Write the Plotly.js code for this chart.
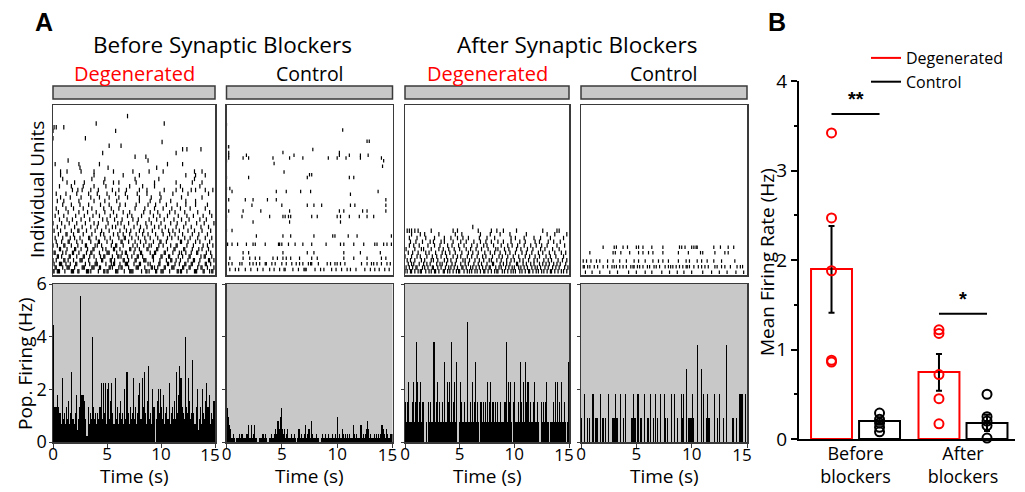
<!DOCTYPE html>
<html><head><meta charset="utf-8">
<script src="https://cdn.plot.ly/plotly-3.0.1.min.js"></script>
<style>html,body{margin:0;padding:0;background:#fff}#chart{width:1025px;height:492px}</style>
</head><body><div id="chart"></div>
<script>
// ---------------- DATA ----------------
const timeRange = [0, 15];          // s
const binWidth = 0.1;               // s, histogram bin
const spikeTimeUnit = 0.1;          // raster spike times are stored in tenths of a second
const histTicksX = [0, 5, 10, 15];
const histTickText = ['0', '5', '10', ''];   // '15' is drawn on an overlay axis, nudged left as in the figure
const histLastTick = [15], histLastTickText = ['15'];
const histTicksY = [0, 2, 4, 6];

// raster: [unit index (1 = bottom), spike times]
const unitsDeg = 45, unitsCtrl = 60;
const rasterDegBefore = [
 [1,"0 1 4 5 6 11 17 18 19 23 24 31 32 33 35 42 47 48 50 51 58 59 60 66 71 72 73 74 82 86 87 89 95 96 100 101 102 108 115 116 118 119 124 131 132 133 139 140 145 147 148"],
 [2,"2 3 9 13 14 15 20 27 28 29 36 37 38 43 44 52 53 55 61 63 64 70 77 78 79 85 91 92 94 97 103 104 110 111 112 120 121 126 127 134 137 138 143 149"],
 [3,"1 6 7 8 12 16 21 22 30 34 39 40 41 49 54 56 57 62 67 68 69 75 80 81 88 90 98 99 106 107 113 117 122 123 128 129 135 141 142 146"],
 [4,"0 3 10 11 14 19 25 26 27 33 40 45 46 53 54 57 65 66 70 76 77 84 85 86 93 99 105 109 110 114 118 125 130 131 136 144 145 149"],
 [5,"4 5 8 15 16 22 28 29 34 38 44 47 48 55 60 61 63 69 73 78 79 83 92 93 100 101 107 108 116 120 126 127 137 140 141 147"],
 [6,"1 2 9 12 18 19 24 31 35 36 43 50 51 52 59 64 67 68 75 81 82 90 94 95 103 104 111 117 119 123 128 133 134 142 146"],
 [7,"6 7 13 20 21 26 32 37 38 46 49 56 57 62 71 72 76 80 87 88 96 97 106 112 113 121 122 129 135 138 144"],
 [8,"0 4 10 11 17 23 30 31 39 41 45 54 58 59 65 74 78 84 89 91 98 102 109 114 115 124 130 139 143 148"],
 [9,"3 8 14 15 22 27 35 42 43 50 55 63 64 70 76 81 86 93 99 100 105 118 119 125 132 136 145"],
 [10,"2 9 16 20 25 33 34 40 48 53 61 66 67 73 79 85 90 97 106 110 116 122 127 134 141 147"],
 [11,"5 12 13 19 28 36 44 47 56 60 65 71 77 83 88 95 102 108 113 120 129 135 143"],
 [12,"1 7 17 23 24 31 39 45 52 62 68 72 80 84 92 101 107 111 117 125 131 138 146"],
 [13,"4 11 20 27 35 41 49 55 58 66 75 81 87 94 98 104 114 121 128 137 144"],
 [14,"0 8 15 22 30 38 42 51 60 63 70 78 86 91 100 109 115 123 133 140 149"],
 [15,"6 13 18 26 34 46 50 57 64 74 79 89 96 103 112 119 126 136 142"],
 [16,"2 10 21 29 37 43 53 59 69 73 82 93 99 106 116 124 130 139 147"],
 [17,"5 14 24 32 40 48 56 65 71 84 90 97 108 113 122 134 145"],
 [18,"3 12 19 28 36 47 54 61 76 85 94 102 110 118 127 141"],
 [19,"9 17 25 33 44 52 62 67 77 88 95 105 115 123 132 143"],
 [20,"4 10 24 38 48 59 80 90 99 109 123 132"],
 [21,"7 16 26 35 43 52 61 69 80 91 100 119 138"],
 [22,"3 12 22 33 41 50 58 67 78 87 99 111 125 144"],
 [23,"18 23 27 35 42 55 61 68 80 87 103 114 120 128 132 141 148"],
 [24,"6 17 28 38 49 71 83 94 118 136"],
 [25,"13 20 29 47 56 61 77 94 114 129 138"],
 [26,"9 36 48 76 98 131"],
 [27,"7 38 65 80 123 132 141"],
 [28,"7 13 26 38 56 74 89 102 131 138"],
 [29,"25 51 96"],
 [30,"2 24 43 106 120"],
 [31,"14 88"],
 [32,"76 86"],
 [33,"46 114"],
 [34,"120 124 137"],
 [35,"52 63"],
 [36,"101"],
 [37,"0 30"],
 [39,"0 58"],
 [40,"1 3 10"],
 [41,"40 103"],
 [43,"69"]
];
const rasterCtrlBefore = [
 [2,"3 8 11 17 22 28 33 39 43 48 52 53 60 65 70 71 72 80 85 88 95 99 104 109 112 117 125 130 134 138 143 147"],
 [4,"2 5 12 14 21 24 27 30 35 36 41 44 50 54 59 63 66 69 74 76 77 83 91 94 98 100 103 107 122 127 131 133 136 140 145 148"],
 [6,"3 15 21 26 30 42 46 51 54 58 66 77 82 106 115 127 140 144"],
 [8,"15 20 51 73 79 106 121 139"],
 [11,"1 5 10 18 24 26 35 47 48 50 56 62 69 77 90 103 106 115 124 134 136 142 145 149"],
 [14,"27 51 58 79 96 98 110 118 149"],
 [16,"0 5"],
 [19,"24 57 103"],
 [21,"0 14 39 51 53 56 58 77 82 100 103 111 120 127 133"],
 [23,"2 15 31 57 102 106 123 127 144"],
 [25,"23 50 73 79 86 112 116 144"],
 [27,"2 17 24 37 45 144"],
 [29,"112"],
 [30,"5 45 54 67 76 137"],
 [31,"0 3"],
 [35,"0 20 73 111 115"],
 [36,"75 77"],
 [37,"52"],
 [39,"141"],
 [40,"43"],
 [41,"0 142"],
 [42,"2 15 20 42 57 69 92 100 108 121 140"],
 [43,"2 18 61 102 111 121 128"],
 [44,"2 51 102"],
 [45,"78"],
 [46,"0 2"],
 [48,"127 129"],
 [52,"105"],
 [54,"0"]
];
const rasterDegAfter = [
 [1,"0 2 5 6 9 12 14 15 19 22 24 27 28 31 35 36 39 41 44 47 49 50 54 57 59 61 64 66 69 72 73 76 79 82 84 85 89 91 94 97 99 101 105 107 110 113 114 117 120 122 125 127 130 133 134 137 140 143 145 148"],
 [2,"1 4 7 10 11 16 18 21 25 26 30 33 37 40 42 45 48 52 53 56 60 62 65 68 71 74 77 78 83 86 88 92 95 98 100 104 106 109 112 116 119 121 124 128 131 135 138 141 146 149"],
 [3,"3 6 8 13 17 20 23 29 32 34 38 43 46 51 55 58 63 67 70 75 80 81 87 90 93 96 102 103 108 111 115 118 123 126 129 132 136 139 142 147"],
 [4,"2 5 9 15 18 24 26 30 36 39 42 47 53 55 59 64 68 72 77 79 84 88 93 97 100 105 108 113 118 121 127 131 134 140 144 148"],
 [5,"0 6 11 14 20 25 29 33 38 44 48 51 57 61 66 71 74 80 86 89 94 99 104 110 114 119 123 129 133 138 145"],
 [6,"3 7 12 19 22 28 34 37 41 46 52 58 62 67 73 78 82 87 92 96 101 107 111 116 122 126 132 137 143 147"],
 [7,"1 9 15 17 24 31 35 40 45 50 56 60 65 70 76 83 85 91 95 102 106 112 117 124 128 135 141"],
 [8,"4 8 13 21 27 32 39 43 49 54 61 66 72 75 81 88 94 98 103 109 115 120 125 130 139 146"],
 [9,"5 10 16 23 26 33 36 44 51 56 63 69 74 79 85 90 97 105 110 119 123 131 136 142"],
 [10,"4 11 19 27 36 42 48 53 58 68 75 82 97 101 109 118 124 133 145"],
 [11,"6 14 18 31 46 52 69 78 87 96 111 130 137 148"],
 [12,"2 4 6 9 12 24 44 48 67 79 84 90 102 126 139 141"],
 [13,"62"]
];
const rasterCtrlAfter = [
 [1,"4 10 17 26 33 43 50 58 64 73 80 87 93 100 110 118 125 132 140 147"],
 [3,"2 3 6 8 12 15 20 24 28 30 32 35 38 41 45 47 48 51 53 56 60 62 66 68 71 76 79 81 83 86 89 92 95 96 98 102 106 109 112 115 121 123 127 130 135 141 144 146"],
 [5,"2 5 9 14 17 24 29 35 41 48 52 58 65 70 74 79 88 95 98 105 109 114 120 127 139"],
 [8,"8 29 31 36 44 52 56 61 65 74 88 97 108 110 121 130 133"],
 [10,"20 30 32 38 42 50 52 56 64 74 89 91 94 100 102 104 105 120 126 133 138"]
];

// population firing: spike counts per 0.1 s bin, and Hz per counted spike
const hzPerSpike = {degBefore: 0.2222, ctrlBefore: 0.16, degAfter: 0.76, ctrlAfter: 0.92};
const histDegBefore = [20,6,6,6,8,6,5,3,11,4, 5,3,6,4,7,3,5,12,4,3, 5,8,2,4,6,25,8,8,8,7, 4,1,6,3,5,4,18,6,4,5,
 3,5,4,6,10,4,10,5,10,3, 9,10,4,7,10,5,3,11,4,6, 3,5,7,4,5,3,9,4,12,5, 3,6,4,5,11,4,6,3,5,8,
 10,4,11,6,12,5,3,7,13,4, 5,3,9,6,0,4,7,9,5,9, 6,4,8,3,5,6,4,10,3,5, 6,4,7,4,12,5,8,13,11,6,
 5,4,18,6,5,11,7,4,5,14, 5,3,6,9,2,4,6,3,9,5, 4,7,10,6,8,3,5,4,7,7];
const histCtrlBefore = [8,6,4,3,1,1,2,1,0,1, 1,2,1,2,2,1,1,1,2,4, 1,1,4,1,2,4,1,1,0,1, 1,1,2,2,1,2,1,0,1,1,
 2,1,1,2,3,2,5,3,6,8, 3,2,3,1,2,3,1,1,2,1, 1,2,1,0,1,3,1,2,1,1, 2,4,1,2,3,1,5,2,1,1,
 1,2,1,1,0,1,2,1,1,2, 1,1,2,1,1,2,1,1,2,1, 6,1,2,1,3,2,1,2,1,2, 1,2,1,1,4,2,1,2,1,1,
 1,4,1,2,1,2,3,5,3,1, 2,1,1,2,1,2,1,2,1,2, 4,3,2,1,3,2,1,1,2,2];
const histDegAfter = [2,1,2,3,1,1,2,3,1,2, 5,3,1,2,3,1,2,0,0,1, 0,2,1,2,1,1,5,1,2,3, 1,2,1,1,2,1,4,1,3,2,
 3,1,5,1,2,3,1,4,0,1, 3,2,1,1,2,1,1,6,1,2, 1,3,1,2,4,1,2,1,0,2, 1,2,1,2,1,3,1,2,3,1,
 2,1,2,1,2,1,1,2,1,1, 1,2,5,1,3,2,3,1,0,2, 3,1,1,2,1,4,2,1,3,1, 4,2,3,1,2,1,1,2,3,1,
 1,2,1,0,2,1,2,1,2,3, 1,1,0,1,1,2,1,3,1,3, 1,2,1,3,1,2,1,0,1,4];
const histCtrlAfter = [1,0,0,2,0,1,0,1,0,0, 2,2,0,1,1,0,0,2,0,1, 1,0,1,0,2,0,0,0,1,1, 1,2,1,0,0,2,0,0,1,0,
 2,0,0,0,0,1,1,2,1,1, 0,2,0,1,1,0,0,2,0,0, 1,0,2,0,0,1,0,2,0,1, 0,2,0,0,0,2,1,0,1,0,
 0,2,0,0,2,0,0,1,0,0, 2,1,2,0,0,3,0,1,1,1, 2,1,0,0,0,4,0,0,3,0, 2,0,0,1,2,1,1,0,0,0,
 2,0,0,1,0,2,0,0,1,0, 0,4,0,0,0,0,1,1,0,0, 1,0,0,2,2,2,0,0,2,0];

// panel B
const groups = ["Before<br>blockers", "After<br>blockers"];
const meanDeg = [1.9, 0.75], semDegUp = [0.48, 0.20], semDegDown = [0.49, 0.21];
const meanCtrl = [0.20, 0.18], semCtrl = [0.04, 0.09];
const ptsDeg = [[3.42, 2.47, 1.88, 0.88, 0.86], [1.22, 1.18, 0.72, 0.45, 0.17]];
const ptsCtrl = [[0.29, 0.22, 0.18, 0.13, 0.08], [0.50, 0.25, 0.20, 0.15, 0.01]];
const sig = [{g: 0, y: 3.63, label: "**"}, {g: 1, y: 1.40, label: "*"}];

// ---------------- LAYOUT HELPERS ----------------
const W = 1025, H = 492;
const fx = p => p / W, fy = p => 1 - p / H;
const RED = '#ff0000', FRAME = '#3a3a3a', GREY = '#c8c8c8';
const FONT = 'Open Sans, Noto Sans, sans-serif';
const cols = [[53, 215], [226.5, 392.5], [405, 569], [581, 747]];
const rasterY = [105, 275], histY = [284, 442], stimY = [86, 99];

const traces = [], layout = {
  width: W, height: H, margin: {l: 0, r: 0, t: 0, b: 0},
  paper_bgcolor: 'white', plot_bgcolor: 'rgba(0,0,0,0)',
  font: {family: FONT, color: 'black', size: 16},
  showlegend: true, bargap: 0, shapes: [], annotations: [],
  legend: {x: fx(866), y: fy(41), xanchor: 'left', yanchor: 'top', bgcolor: 'rgba(0,0,0,0)',
           font: {size: 16, family: FONT}, itemwidth: 30, tracegroupgap: 0}
};
const ax = n => (n === 1 ? '' : String(n));

const rasters = [[rasterDegBefore, unitsDeg], [rasterCtrlBefore, unitsCtrl], [rasterDegAfter, unitsDeg], [rasterCtrlAfter, unitsCtrl]];
const hists = [[histDegBefore, hzPerSpike.degBefore], [histCtrlBefore, hzPerSpike.ctrlBefore],
               [histDegAfter, hzPerSpike.degAfter], [histCtrlAfter, hzPerSpike.ctrlAfter]];

rasters.forEach(([rows, nUnits], i) => {
  const n = i + 1, xs = [], ys = [];
  rows.forEach(([u, str]) => str.split(/\s+/).filter(s => s.length).forEach(s => {
    xs.push(Number(s) * spikeTimeUnit); ys.push(u);
  }));
  traces.push({type: 'scatter', mode: 'markers', x: xs, y: ys, xaxis: 'x' + ax(n), yaxis: 'y' + ax(n),
    showlegend: false, hoverinfo: 'skip', cliponaxis: true,
    marker: {symbol: 'line-ns-open', size: nUnits === unitsDeg ? 3.2 : 2.5, color: 'black', line: {width: 1.2, color: 'black'}}});
  layout['xaxis' + ax(n)] = {domain: [fx(cols[i][0]), fx(cols[i][1])], anchor: 'y' + ax(n), range: timeRange,
    showticklabels: false, ticks: '', showgrid: false, zeroline: false, showline: true, mirror: true,
    linecolor: FRAME, linewidth: 1.5, fixedrange: true};
  layout['yaxis' + ax(n)] = {domain: [fy(rasterY[1]), fy(rasterY[0])], anchor: 'x' + ax(n), range: [0, nUnits + 1],
    showticklabels: false, ticks: '', showgrid: false, zeroline: false, showline: true, mirror: true,
    linecolor: FRAME, linewidth: 1.5, fixedrange: true};
  layout.shapes.push({type: 'rect', xref: 'x' + ax(n) + ' domain', yref: 'paper', x0: 0, x1: 1,
    y0: fy(stimY[1]), y1: fy(stimY[0]), fillcolor: GREY, line: {color: FRAME, width: 1.5}});
});

hists.forEach(([counts, q], i) => {
  const n = i + 5, m = i + 10;
  traces.push({type: 'bar', x: counts.map((c, k) => (k + 0.5) * binWidth), y: counts.map(c => c * q),
    width: binWidth, xaxis: 'x' + n, yaxis: 'y' + n, showlegend: false, hoverinfo: 'skip',
    marker: {color: 'black', line: {width: 0}}});
  // empty trace so the overlay axis carrying the '15' label is drawn
  traces.push({type: 'scatter', mode: 'markers', x: [], y: [], xaxis: 'x' + m, yaxis: 'y' + n,
    showlegend: false, hoverinfo: 'skip'});
  layout['xaxis' + n] = {domain: [fx(cols[i][0]), fx(cols[i][1])], anchor: 'y' + n, range: timeRange,
    tickvals: histTicksX, ticktext: histTickText, ticks: 'outside', ticklen: 4, tickcolor: FRAME, tickfont: {size: 17},
    ticklabelstandoff: -8,
    showgrid: false, zeroline: false, showline: true, mirror: true, linecolor: FRAME, linewidth: 1.5, fixedrange: true};
  layout['xaxis' + m] = {overlaying: 'x' + n, anchor: 'y' + n, side: 'bottom', range: timeRange,
    tickvals: histLastTick, ticktext: histLastTickText, ticks: '', tickfont: {size: 17},
    ticklabelstandoff: 1, ticklabelshift: -5,
    showgrid: false, zeroline: false, showline: false, fixedrange: true};
  layout['yaxis' + n] = {domain: [fy(histY[1]), fy(histY[0])], anchor: 'x' + n, range: [0, 6],
    tickvals: histTicksY, ticks: 'outside', ticklen: 3, tickcolor: FRAME, showticklabels: i === 0, tickfont: {size: 18},
    ticklabelstandoff: -2,
    showgrid: false, zeroline: false, showline: true, mirror: true, linecolor: FRAME, linewidth: 1.5, fixedrange: true};
  layout.shapes.push({type: 'rect', xref: 'x' + n + ' domain', yref: 'y' + n + ' domain', x0: 0, x1: 1, y0: 0, y1: 1,
    fillcolor: GREY, line: {width: 0}, layer: 'below'});
  layout.annotations.push({xref: 'paper', yref: 'paper', x: fx((cols[i][0] + cols[i][1]) / 2), y: fy(476),
    text: 'Time (s)', showarrow: false, font: {size: 19}, xanchor: 'center', yanchor: 'middle'});
});

// panel B
const barW = 0.381, offDeg = -0.414, offCtrl = 0.033;
const gx = groups.map((g, k) => k);
traces.push({type: 'bar', x: gx, y: meanDeg, width: barW, offset: offDeg, xaxis: 'x9', yaxis: 'y9',
  name: 'Degenerated', showlegend: false, marker: {color: 'white', line: {color: RED, width: 2}},
  error_y: {type: 'data', symmetric: false, array: semDegUp, arrayminus: semDegDown, color: 'black', thickness: 2, width: 3}});
traces.push({type: 'bar', x: gx, y: meanCtrl, width: barW, offset: offCtrl, xaxis: 'x9', yaxis: 'y9',
  name: 'Control', showlegend: false, marker: {color: 'white', line: {color: 'black', width: 2}},
  error_y: {type: 'data', array: semCtrl, color: 'black', thickness: 2, width: 3}});
[[ptsDeg, offDeg, RED], [ptsCtrl, offCtrl, 'black']].forEach(([pts, off, col]) => {
  const xs = [], ys = [];
  pts.forEach((arr, k) => arr.forEach(v => { xs.push(k + off + barW / 2); ys.push(v); }));
  traces.push({type: 'scatter', mode: 'markers', x: xs, y: ys, xaxis: 'x9', yaxis: 'y9', showlegend: false,
    cliponaxis: false, hoverinfo: 'skip', marker: {symbol: 'circle-open', size: 9, color: col, line: {width: 2, color: col}}});
});
traces.push({type: 'scatter', mode: 'lines', x: [null], y: [null], xaxis: 'x9', yaxis: 'y9', name: 'Degenerated', line: {color: RED, width: 2}});
traces.push({type: 'scatter', mode: 'lines', x: [null], y: [null], xaxis: 'x9', yaxis: 'y9', name: 'Control', line: {color: 'black', width: 2}});

layout.xaxis9 = {domain: [fx(799), fx(1015)], anchor: 'y9', range: [-0.526, 1.484], tickvals: gx, ticktext: groups,
  ticks: '', showgrid: false, zeroline: false, showline: true, linecolor: 'black', linewidth: 2,
  tickfont: {size: 18}, ticklabelstandoff: -3, fixedrange: true};
layout.yaxis9 = {domain: [fy(439), fy(81)], anchor: 'x9', range: [0, 4], tickvals: [0, 1, 2, 3, 4],
  ticks: 'outside', ticklen: 6, tickwidth: 2, tickcolor: 'black', showgrid: false, zeroline: false,
  showline: true, linecolor: 'black', linewidth: 2, tickfont: {size: 19}, fixedrange: true,
  minor: {dtick: 0.5, ticks: 'outside', ticklen: 3, tickwidth: 2, tickcolor: 'black', showgrid: false}};
sig.forEach(s => {
  layout.shapes.push({type: 'line', xref: 'x9', yref: 'y9', x0: s.g + offDeg + barW / 2, x1: s.g + offCtrl + barW / 2,
    y0: s.y, y1: s.y, line: {color: 'black', width: 2}});
  layout.annotations.push({xref: 'x9', yref: 'y9', x: s.g, y: s.y, yanchor: 'bottom', yshift: 2, text: '<b>' + s.label + '</b>',
    showarrow: false, font: {size: 20, family: 'Liberation Sans, Arial, sans-serif'}});
});

// labels
const txt = (x, y, text, size, extra) => layout.annotations.push(Object.assign({xref: 'paper', yref: 'paper', x: fx(x), y: fy(y),
  text, showarrow: false, xanchor: 'center', yanchor: 'middle', font: {size, family: FONT}}, extra || {}));
txt(44, 22, '<b>A</b>', 25, {font: {size: 25, family: 'Liberation Sans, Arial, sans-serif'}});
txt(777, 22, '<b>B</b>', 25, {font: {size: 25, family: 'Liberation Sans, Arial, sans-serif'}});
txt(222, 45, 'Before Synaptic Blockers', 22.5);
txt(577, 45, 'After Synaptic Blockers', 22.5);
txt(134, 73, 'Degenerated', 20, {font: {size: 20, family: FONT, color: RED}});
txt(309.5, 73, 'Control', 19.5);
txt(487, 73, 'Degenerated', 20, {font: {size: 20, family: FONT, color: RED}});
txt(664, 73, 'Control', 19.5);
txt(37, 190, 'Individual Units', 19, {textangle: -90});
txt(25, 364, 'Pop. Firing (Hz)', 19, {textangle: -90});
txt(767, 262, 'Mean Firing Rate (Hz)', 19, {textangle: -90});

Plotly.newPlot('chart', traces, layout, {staticPlot: true, displayModeBar: false});
</script></body></html>
